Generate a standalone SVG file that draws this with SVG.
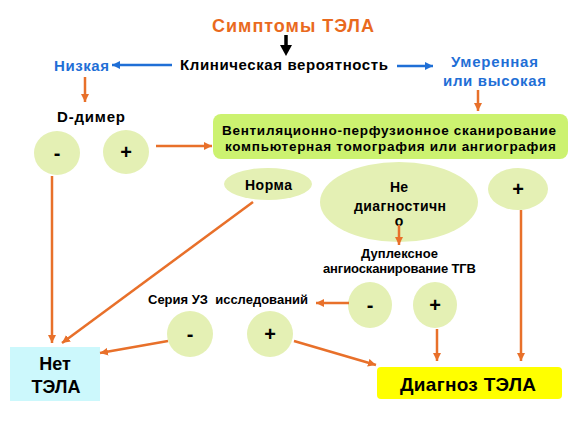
<svg xmlns="http://www.w3.org/2000/svg" width="578" height="428" viewBox="0 0 578 428">
<defs>
<style>
text{font-family:"Liberation Sans",Arial,sans-serif;font-weight:bold;text-anchor:middle;fill:#000}
.t{font-size:15px}
.blue{fill:#1F6FD6}
.or{fill:#E96A1E}
.s13{font-size:13.5px}
.s13b{font-size:13px}
.pm{font-size:20px}
.big{font-size:18px}
.c{fill:#E4F0B4}
.ol{stroke:#E8702A;stroke-width:2.5;fill:none;marker-end:url(#ao)}
.bl{stroke:#1F6FD6;stroke-width:2.5;fill:none;marker-end:url(#ab)}
</style>
<marker id="ao" markerUnits="userSpaceOnUse" markerWidth="10" markerHeight="10" refX="8" refY="4" orient="auto"><path d="M0,0 L8,4 L0,8 Z" fill="#E8702A"/></marker>
<marker id="ab" markerUnits="userSpaceOnUse" markerWidth="10" markerHeight="10" refX="8" refY="4" orient="auto"><path d="M0,0 L8,4 L0,8 Z" fill="#1F6FD6"/></marker>
</defs>
<rect width="578" height="428" fill="#fff"/>

<g id="title"><text class="or" x="293" y="32" style="font-size:18px" textLength="162" lengthAdjust="spacing">Симптомы ТЭЛА</text></g>
<g id="clin"><text class="t" x="284" y="70" textLength="208" lengthAdjust="spacing">Клиническая вероятность</text></g>
<g id="low"><text class="t blue" x="81.5" y="71" textLength="55" lengthAdjust="spacing">Низкая</text></g>
<g id="high"><text class="t blue" x="494.5" y="67" textLength="87" lengthAdjust="spacing">Умеренная</text><text class="t blue" x="494.5" y="86" textLength="103" lengthAdjust="spacing">или высокая</text></g>
<g id="ddimer"><text class="t" x="91" y="122" textLength="68" lengthAdjust="spacing">D-димер</text></g>
<g id="dneg"><ellipse class="c" cx="57" cy="153" rx="23" ry="22"/><text class="pm" x="57" y="160">-</text></g>
<g id="dpos"><ellipse class="c" cx="126" cy="152" rx="23" ry="22"/><text class="pm" x="126" y="159">+</text></g>
<g id="scan"><rect x="213" y="114" width="355" height="45" rx="8" fill="#CCF270"/>
<text class="s13" x="389" y="135" textLength="334" lengthAdjust="spacing">Вентиляционно-перфузионное сканирование</text>
<text class="s13" x="390.5" y="151" textLength="331" lengthAdjust="spacing">компьютерная томография или ангиография</text></g>
<g id="norm"><ellipse class="c" cx="268" cy="184" rx="44" ry="16"/><text style="font-size:14px" x="268.5" y="190" textLength="47" lengthAdjust="spacing">Норма</text></g>
<g id="nondiag"><ellipse class="c" cx="399" cy="202" rx="79" ry="40"/>
<text style="font-size:14px" x="399" y="192">Не</text>
<text style="font-size:14px" x="400" y="211" textLength="92" lengthAdjust="spacing">диагностичн</text>
<text style="font-size:14px" x="399" y="226">о</text></g>
<g id="scanpos"><ellipse class="c" cx="518" cy="189" rx="30" ry="21"/><text class="pm" x="518" y="196">+</text></g>
<g id="duplex"><text class="s13b" x="399.5" y="258" textLength="77" lengthAdjust="spacing">Дуплексное</text><text class="s13b" x="399.5" y="273" textLength="153" lengthAdjust="spacing">ангиосканирование ТГВ</text></g>
<g id="dupneg"><ellipse class="c" cx="370" cy="305" rx="22" ry="23"/><text class="pm" x="370" y="312">-</text></g>
<g id="duppos"><ellipse class="c" cx="435" cy="305" rx="22" ry="23"/><text class="pm" x="435" y="312">+</text></g>
<g id="series"><text class="s13b" x="228" y="304" style="white-space:pre" textLength="160" lengthAdjust="spacing">Серия УЗ  исследований</text></g>
<g id="usneg"><ellipse class="c" cx="190" cy="334" rx="23" ry="23"/><text class="pm" x="190" y="341">-</text></g>
<g id="uspos"><ellipse class="c" cx="270" cy="334" rx="23" ry="23"/><text class="pm" x="270" y="341">+</text></g>
<g id="nope"><rect x="10" y="347" width="90" height="54" fill="#CCF8FC"/>
<text class="big" x="55" y="370">Нет</text><text class="big" x="56" y="393" textLength="49" lengthAdjust="spacing">ТЭЛА</text></g>
<g id="diag"><rect x="377" y="367" width="185" height="32" rx="4" fill="#FFFF00"/>
<text style="font-size:19px" x="468" y="391" textLength="136" lengthAdjust="spacing">Диагноз ТЭЛА</text></g>

<g id="connectors">
<line x1="286" y1="35" x2="286" y2="46" stroke="#000" stroke-width="3.5"/>
<path d="M280,45 L292,45 L286,56 Z" fill="#000"/>
<line class="bl" x1="172" y1="65" x2="112" y2="65"/>
<line class="bl" x1="397" y1="66" x2="433" y2="66"/>
<line class="ol" x1="85" y1="77" x2="85" y2="102"/>
<line class="ol" x1="478" y1="90" x2="478" y2="111"/>
<line class="ol" x1="156" y1="146" x2="212" y2="146"/>
<line class="ol" x1="52" y1="176" x2="52" y2="343"/>
<line class="ol" x1="253" y1="202" x2="62" y2="343"/>
<line class="ol" x1="399" y1="225" x2="399" y2="245"/>
<line class="ol" x1="349" y1="303" x2="316" y2="303"/>
<line class="ol" x1="168" y1="341" x2="100" y2="353"/>
<line class="ol" x1="294" y1="341" x2="376" y2="365"/>
<line class="ol" x1="437" y1="329" x2="437" y2="361"/>
<line class="ol" x1="521" y1="210" x2="521" y2="361"/>
</g>
</svg>
